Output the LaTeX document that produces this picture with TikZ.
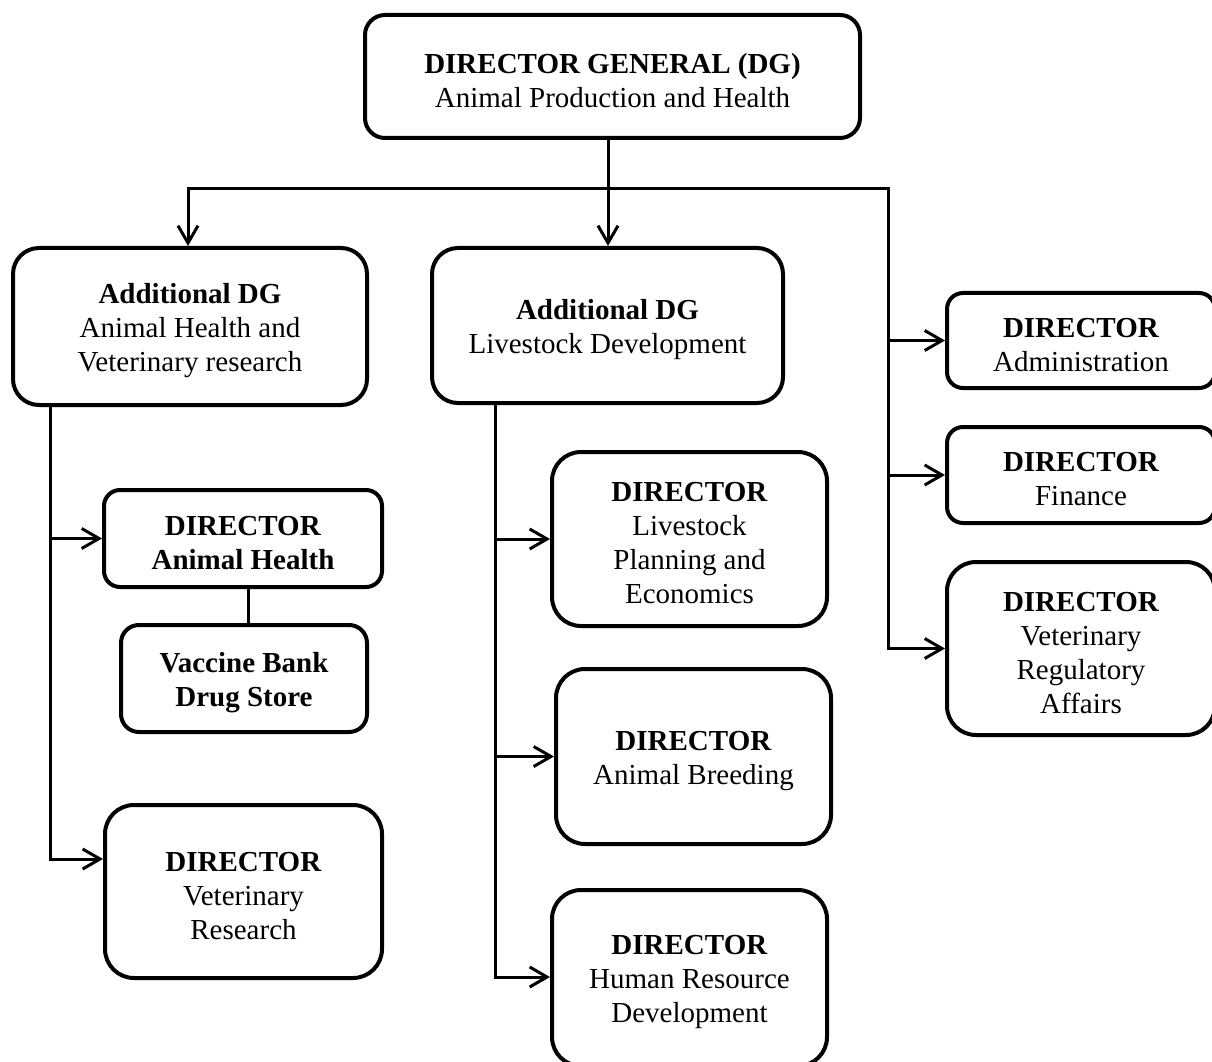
\documentclass[tikz,border=0pt]{standalone}
\usepackage{fontspec}
\setmainfont{Liberation Serif}
\usetikzlibrary{arrows.meta}
% raises the top line so that the text sits slightly low in its box
\newcommand{\tstrut}{\rule{0pt}{21pt}}
\begin{document}
\begin{tikzpicture}[x=0.75pt,y=-0.75pt,
  box/.style={draw, line width=3pt, align=center, inner sep=0pt,
    font=\fontsize{21.75pt}{25.5pt}\selectfont},
  sz/.style n args={3}{minimum width=#1*0.75pt, minimum height=#2*0.75pt,
    rounded corners=#3*0.75pt},
  ln/.style={line width=2.25pt},
  arr/.style={line width=2.25pt, line join=miter,
    -{Straight Barb[length=13pt,width=15pt]}},
  arr2/.style={line width=2.25pt, line join=miter,
    {Straight Barb[length=13pt,width=15pt]}-{Straight Barb[length=13pt,width=15pt]}},
]
\useasboundingbox (0,0) rectangle (1212,1062);

% top level
\node[box, sz={495}{123}{20}] (dg) at (612.5,76.5)
  {\tstrut\textbf{DIRECTOR GENERAL (DG)}\\Animal Production and Health};

% additional directors general
\node[box, sz={354}{157}{26}] (a1) at (190,326.5)
  {\tstrut\textbf{Additional DG}\\Animal Health and\\Veterinary research};
\node[box, sz={351}{155}{26}] (a2) at (607.5,325.5)
  {\tstrut\textbf{Additional DG}\\Livestock Development};

% directors reporting to the DG
\node[box, sz={268}{95}{16}] (adm) at (1081,340.5)
  {\tstrut\textbf{DIRECTOR}\\Administration};
\node[box, sz={268}{96}{16}] (fin) at (1081,475)
  {\tstrut\textbf{DIRECTOR}\\Finance};
\node[box, sz={268}{173}{29}] (vra) at (1081,648.5)
  {\tstrut\textbf{DIRECTOR}\\Veterinary\\Regulatory\\Affairs};

% animal health and veterinary research wing
\node[box, sz={278}{97}{16}] (ah) at (243,538.5)
  {\tstrut\textbf{DIRECTOR}\\\textbf{Animal Health}};
\node[box, sz={246}{107}{18}] (vb) at (244,678.5)
  {\tstrut\textbf{Vaccine Bank}\\\textbf{Drug Store}};
\node[box, sz={277}{173}{29}] (vr) at (243.5,891.5)
  {\tstrut\textbf{DIRECTOR}\\Veterinary\\Research};

% livestock development wing
\node[box, sz={275}{174}{29}] (lpe) at (689.5,539)
  {\tstrut\textbf{DIRECTOR}\\Livestock\\Planning and\\Economics};
\node[box, sz={275}{175}{29}] (ab) at (693.5,756.5)
  {\tstrut\textbf{DIRECTOR}\\Animal Breeding};
\node[box, sz={275}{176}{29}] (hrd) at (689.5,978)
  {\tstrut\textbf{DIRECTOR}\\Human Resource\\Development};

% connector guide lines
\coordinate (dgx) at (608,0);
\coordinate (a1x) at (188,0);
\coordinate (hb) at (0,189);
\coordinate (tA) at (50,0);
\coordinate (tB) at (495,0);
\coordinate (tC) at (888,0);
\coordinate (vbx) at (248,0);
\coordinate (vrrow) at (0,859);
\coordinate (hrrow) at (0,977);

% DG to its branches
\draw[arr] (dg.south -| dgx) -- (a2.north -| dgx);
\draw[arr2] (a1.north -| a1x) -- (a1x |- hb) -- (tC |- hb)
  -- (tC |- vra.west) -- (vra.west);
\draw[arr] (tC |- adm.west) -- (adm.west);
\draw[arr] (tC |- fin.west) -- (fin.west);

% animal health wing
\draw[arr] (a1.south -| tA) -- (tA |- vrrow) -- (vr.west |- vrrow);
\draw[arr] (tA |- ah.west) -- (ah.west);
\draw[ln] (ah.south -| vbx) -- (vb.north -| vbx);

% livestock development wing
\draw[arr] (a2.south -| tB) -- (tB |- hrrow) -- (hrd.west |- hrrow);
\draw[arr] (tB |- lpe.west) -- (lpe.west);
\draw[arr] (tB |- ab.west) -- (ab.west);
\end{tikzpicture}
\end{document}
